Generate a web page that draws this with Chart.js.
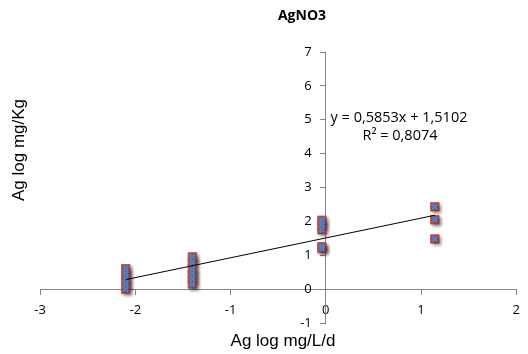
<!DOCTYPE html>
<html>
<head>
<meta charset="utf-8">
<script src="https://cdn.jsdelivr.net/npm/chart.js@4"></script>
<style>
    html, body { margin: 0; padding: 0; background: #fff; }
    #wrap { width: 528px; height: 354px; position: relative; }
</style>
</head>
<body>
<div id="wrap"><canvas id="chart-agno3"></canvas></div>
<script>
// datos
const xValues = [-2.1, -2.1, -2.1, -2.1, -2.1,
                 -1.4, -1.4, -1.4, -1.4, -1.4, -1.4,
                 -0.04, -0.04, -0.04, -0.04, -0.04,
                 1.145, 1.145, 1.145];
const yValues = [0.6, 0.45, 0.3, 0.15, 0.0,
                 0.95, 0.8, 0.6, 0.45, 0.3, 0.15,
                 2.03, 1.9, 1.75, 1.25, 1.2,
                 2.43, 2.05, 1.48];
const xTicks = [-3, -2, -1, 0, 1, 2];
const yTicks = [-1, 0, 1, 2, 3, 4, 5, 6, 7];

// linea de tendencia (del texto de la ecuacion)
const SLOPE = 0.5853;
const INTERCEPT = 1.5102;
const trendX = [-2.1, 1.145];

const CHART_TITLE = 'AgNO3';
const X_TITLE = 'Ag log mg/L/d';
const Y_TITLE = 'Ag log mg/Kg';
const EQ_TEXT = 'y = 0,5853x + 1,5102';
const R2_TEXT = 'R² = 0,8074';

const points = xValues.map((x, i) => ({ x, y: yValues[i] }));
const trend = trendX.map(x => ({ x, y: SLOPE * x + INTERCEPT }));

const axisColor = '#868686';
const tickFont = { family: 'Open Sans', size: 13 };

// sombra de los marcadores (estilo Excel)
const shadowPlugin = {
    id: 'shadow',
    beforeDatasetDraw(chart, args) {
        if (args.meta.type !== 'scatter') return;
        const c = chart.ctx;
        c.save();
        c.shadowColor = 'rgba(0,0,0,0.35)';
        c.shadowBlur = 3;
        c.shadowOffsetX = 2;
        c.shadowOffsetY = 2;
    },
    afterDatasetDraw(chart, args) {
        if (args.meta.type !== 'scatter') return;
        chart.ctx.restore();
    }
};

// titulos, etiquetas del eje Y y ecuacion
const textPlugin = {
    id: 'texts',
    afterDraw(chart) {
        const c = chart.ctx;
        const xs = chart.scales.x, ys = chart.scales.y;
        c.save();
        c.fillStyle = '#000';
        c.textAlign = 'center';
        c.textBaseline = 'middle';

        c.font = 'bold 14px "Open Sans"';
        c.fillText(CHART_TITLE, 302, 16);

        c.font = '17px "Liberation Sans"';
        c.fillText(X_TITLE, 283, 341);

        c.save();
        c.translate(19, 150);
        c.rotate(-Math.PI / 2);
        c.font = '17px "Liberation Sans"';
        c.fillText(Y_TITLE, 0, 0);
        c.restore();

        // etiquetas del eje Y a la izquierda de la linea
        c.font = '13px "Open Sans"';
        c.textAlign = 'right';
        const ax = xs.getPixelForValue(0);
        yTicks.forEach(v => c.fillText(String(v), ax - 14, ys.getPixelForValue(v)));

        c.textAlign = 'center';
        c.font = '14.5px "Open Sans"';
        c.fillText(EQ_TEXT, 399, 118);
        c.fillText(R2_TEXT, 400, 136);
        c.restore();
    }
};

new Chart(document.getElementById('chart-agno3'), {
    type: 'scatter',
    data: {
        datasets: [
            {
                type: 'line',
                data: trend,
                borderColor: '#000',
                borderWidth: 1,
                pointRadius: 0,
                fill: false,
                order: 0
            },
            {
                data: points,
                pointStyle: 'crossRot',
                pointRadius: 3.5,
                borderColor: '#4f81bd',
                borderWidth: 2.5,
                backgroundColor: '#4f81bd',
                order: 1
            },
            {
                data: points,
                pointStyle: 'rect',
                pointRadius: 6,
                backgroundColor: '#c0504d',
                borderColor: '#c0504d',
                borderWidth: 1,
                order: 2
            }
        ]
    },
    options: {
        responsive: true,
        maintainAspectRatio: false,
        animation: false,
        layout: { padding: { left: 40, right: 6, top: 52, bottom: 31 } },
        plugins: {
            legend: { display: false },
            tooltip: { enabled: false }
        },
        scales: {
            x: {
                type: 'linear',
                position: { y: 0 },
                min: -3,
                max: 2,
                afterBuildTicks: axis => { axis.ticks = xTicks.map(v => ({ value: v })); },
                ticks: { color: '#000', font: tickFont, padding: 8 },
                grid: { drawOnChartArea: false, drawTicks: true, tickLength: 5, color: axisColor },
                border: { color: axisColor, width: 1 }
            },
            y: {
                type: 'linear',
                position: { x: 0 },
                min: -1,
                max: 7,
                afterBuildTicks: axis => { axis.ticks = yTicks.map(v => ({ value: v })); },
                ticks: { display: false },
                grid: { drawOnChartArea: false, drawTicks: true, tickLength: 5, color: axisColor },
                border: { color: axisColor, width: 1 }
            }
        }
    },
    plugins: [shadowPlugin, textPlugin]
});
</script>
</body>
</html>
